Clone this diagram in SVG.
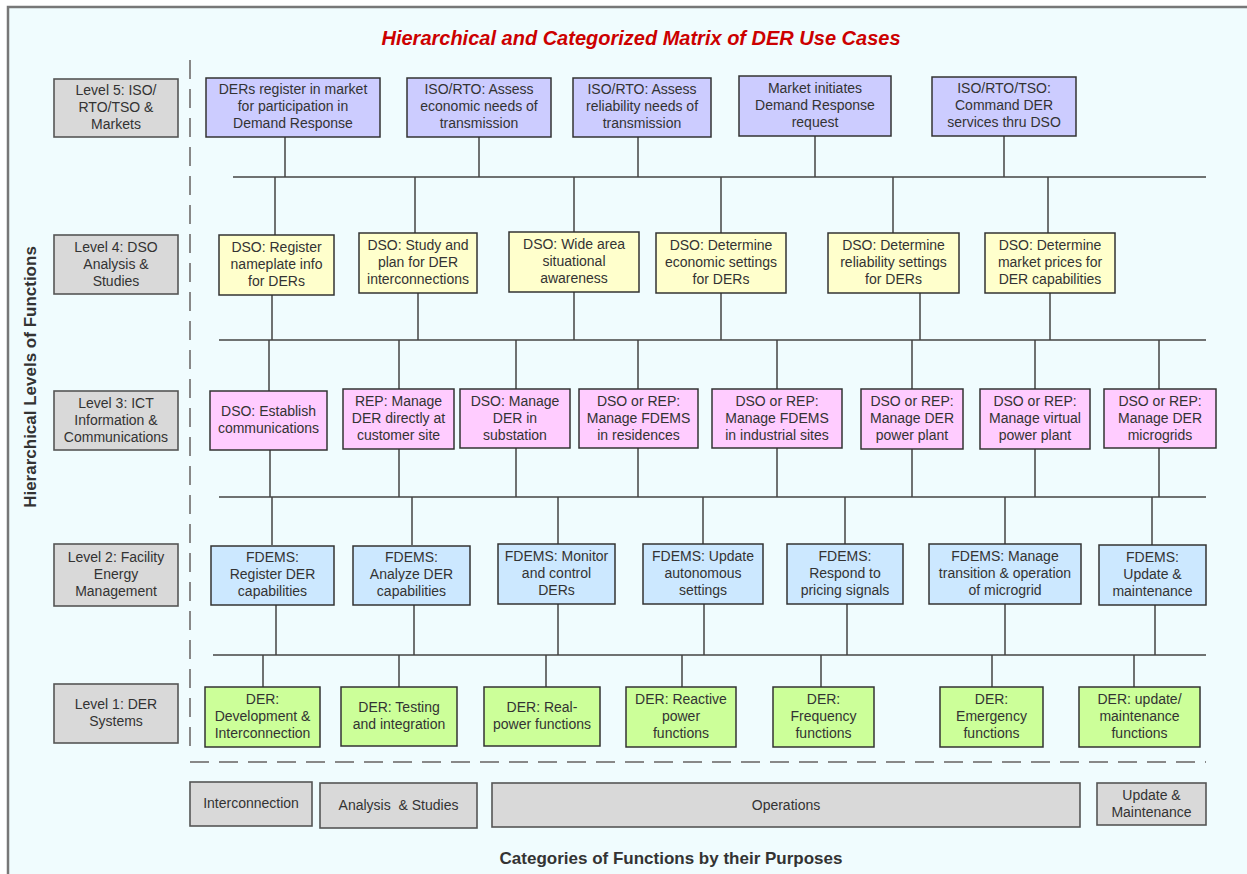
<svg xmlns="http://www.w3.org/2000/svg" width="1247" height="874" viewBox="0 0 1247 874">
  <style>
    text { font-family: "Liberation Sans", Arial, sans-serif; fill: #333; }
    .t { font-size: 14px; text-anchor: middle; }
    .lvl { fill: #d9d9d9; stroke: #555; stroke-width: 1.6; }
    .cat { fill: #d9d9d9; stroke: #555; stroke-width: 1.6; }
    .n5 { fill: #ccccff; stroke: #333; stroke-width: 1.5; }
    .n4 { fill: #ffffcc; stroke: #333; stroke-width: 1.5; }
    .n3 { fill: #ffccff; stroke: #333; stroke-width: 1.5; }
    .n2 { fill: #cce8ff; stroke: #333; stroke-width: 1.5; }
    .n1 { fill: #ccff99; stroke: #333; stroke-width: 1.5; }
    .wire { fill: none; stroke: #444; stroke-width: 1.5; }
    .dash { fill: none; stroke: #888; stroke-width: 2; stroke-dasharray: 19 10; }
  </style>

  <!-- page -->
  <rect x="0" y="0" width="1247" height="874" fill="#ffffff"/>
  <rect x="8" y="7" width="1260" height="890" fill="#f0fcfe" stroke="#777" stroke-width="2.5"/>

  <text x="641" y="45" font-size="20" font-weight="bold" font-style="italic" text-anchor="middle" style="fill:#cc0000">Hierarchical and Categorized Matrix of DER Use Cases</text>
  <text transform="translate(36,377) rotate(-90)" font-size="17" font-weight="bold" text-anchor="middle">Hierarchical Levels of Functions</text>
  <text x="671" y="864" font-size="17" font-weight="bold" text-anchor="middle">Categories of Functions by their Purposes</text>

  <!-- separators -->
  <g id="separators">
    <line class="dash" x1="190" y1="60" x2="190" y2="755"/>
    <line class="dash" x1="190" y1="762" x2="1206" y2="762"/>
  </g>

  <!-- level labels -->
  <g id="level5">
    <rect class="lvl" x="54" y="79" width="124" height="58"/>
    <text class="t"><tspan x="116" y="95">Level 5: ISO/</tspan><tspan x="116" y="112">RTO/TSO &amp;</tspan><tspan x="116" y="129">Markets</tspan></text>
  </g>
  <g id="level4">
    <rect class="lvl" x="54" y="235" width="124" height="59"/>
    <text class="t"><tspan x="116" y="251.5">Level 4: DSO</tspan><tspan x="116" y="268.5">Analysis &amp;</tspan><tspan x="116" y="285.5">Studies</tspan></text>
  </g>
  <g id="level3">
    <rect class="lvl" x="54" y="391" width="124" height="59"/>
    <text class="t"><tspan x="116" y="407.5">Level 3: ICT</tspan><tspan x="116" y="424.5">Information &amp;</tspan><tspan x="116" y="441.5">Communications</tspan></text>
  </g>
  <g id="level2">
    <rect class="lvl" x="54" y="544" width="124" height="62"/>
    <text class="t"><tspan x="116" y="562">Level 2: Facility</tspan><tspan x="116" y="579">Energy</tspan><tspan x="116" y="596">Management</tspan></text>
  </g>
  <g id="level1">
    <rect class="lvl" x="54" y="684" width="124" height="59"/>
    <text class="t"><tspan x="116" y="709">Level 1: DER</tspan><tspan x="116" y="726">Systems</tspan></text>
  </g>

  <!-- connectors -->
  <g id="connectors">
    <!-- level 5 to level 4 -->
    <path class="wire" d="M233 177H1206 M285 137V177 M479 137V177 M638 137V177 M815 136V177 M1004 136V177 M275 177V235 M415 177V233 M574 177V232 M721 177V233 M893 177V233 M1048 177V233"/>
    <!-- level 4 to level 3 -->
    <path class="wire" d="M219 340H1206 M272 295V340 M418 293V340 M574 292V340 M721 293V340 M920 293V340 M1050 293V340 M269 340V391 M399 340V389 M516 340V389 M638 340V389 M777 340V389 M912 340V389 M1035 340V389 M1159 340V389"/>
    <!-- level 3 to level 2 -->
    <path class="wire" d="M219 497H1206 M270 450V497 M399 449V497 M516 448V497 M638 448V497 M777 448V497 M912 449V497 M1035 449V497 M1159 448V497 M272 497V545 M412 497V545 M558 497V544 M703 497V544 M845 497V544 M1005 497V544 M1152 497V545"/>
    <!-- level 2 to level 1 -->
    <path class="wire" d="M213 655H1206 M276 605V655 M414 605V655 M558 604V655 M704 604V655 M847 604V655 M1005 604V655 M1155 605V655 M263 655V687 M399 655V687 M546 655V687 M682 655V687 M821 655V687 M992 655V687 M1134 655V687"/>
  </g>

  <!-- level 5 nodes -->
  <g id="l5-register-market">
    <rect class="n5" x="206" y="78" width="174" height="59"/>
    <text class="t"><tspan x="293" y="94">DERs register in market</tspan><tspan x="293" y="111">for participation in</tspan><tspan x="293" y="128">Demand Response</tspan></text>
  </g>
  <g id="l5-economic-needs">
    <rect class="n5" x="407" y="78" width="144" height="59"/>
    <text class="t"><tspan x="479" y="94">ISO/RTO: Assess</tspan><tspan x="479" y="111">economic needs of</tspan><tspan x="479" y="128">transmission</tspan></text>
  </g>
  <g id="l5-reliability-needs">
    <rect class="n5" x="573" y="78" width="138" height="59"/>
    <text class="t"><tspan x="642" y="94">ISO/RTO: Assess</tspan><tspan x="642" y="111">reliability needs of</tspan><tspan x="642" y="128">transmission</tspan></text>
  </g>
  <g id="l5-demand-response">
    <rect class="n5" x="739" y="76" width="152" height="60"/>
    <text class="t"><tspan x="815" y="92.5">Market initiates</tspan><tspan x="815" y="109.5">Demand Response</tspan><tspan x="815" y="126.5">request</tspan></text>
  </g>
  <g id="l5-command-der">
    <rect class="n5" x="932" y="77" width="144" height="59"/>
    <text class="t"><tspan x="1004" y="93">ISO/RTO/TSO:</tspan><tspan x="1004" y="110">Command DER</tspan><tspan x="1004" y="127">services thru DSO</tspan></text>
  </g>

  <!-- level 4 nodes -->
  <g id="l4-nameplate">
    <rect class="n4" x="219" y="235" width="115" height="60"/>
    <text class="t"><tspan x="276.5" y="252">DSO: Register</tspan><tspan x="276.5" y="269">nameplate info</tspan><tspan x="276.5" y="286">for DERs</tspan></text>
  </g>
  <g id="l4-interconnections">
    <rect class="n4" x="359" y="233" width="118" height="60"/>
    <text class="t"><tspan x="418" y="250">DSO: Study and</tspan><tspan x="418" y="267">plan for DER</tspan><tspan x="418" y="284">interconnections</tspan></text>
  </g>
  <g id="l4-wide-area">
    <rect class="n4" x="509" y="232" width="130" height="60"/>
    <text class="t"><tspan x="574" y="249">DSO: Wide area</tspan><tspan x="574" y="266">situational</tspan><tspan x="574" y="283">awareness</tspan></text>
  </g>
  <g id="l4-economic-settings">
    <rect class="n4" x="656" y="233" width="130" height="60"/>
    <text class="t"><tspan x="721" y="250">DSO: Determine</tspan><tspan x="721" y="267">economic settings</tspan><tspan x="721" y="284">for DERs</tspan></text>
  </g>
  <g id="l4-reliability-settings">
    <rect class="n4" x="828" y="233" width="131" height="60"/>
    <text class="t"><tspan x="893.5" y="250">DSO: Determine</tspan><tspan x="893.5" y="267">reliability settings</tspan><tspan x="893.5" y="284">for DERs</tspan></text>
  </g>
  <g id="l4-market-prices">
    <rect class="n4" x="985" y="233" width="130" height="60"/>
    <text class="t"><tspan x="1050" y="250">DSO: Determine</tspan><tspan x="1050" y="267">market prices for</tspan><tspan x="1050" y="284">DER capabilities</tspan></text>
  </g>

  <!-- level 3 nodes -->
  <g id="l3-communications">
    <rect class="n3" x="210" y="391" width="117" height="59"/>
    <text class="t"><tspan x="268.5" y="415.5">DSO: Establish</tspan><tspan x="268.5" y="432.5">communications</tspan></text>
  </g>
  <g id="l3-customer-site">
    <rect class="n3" x="343" y="389" width="111" height="60"/>
    <text class="t"><tspan x="398.5" y="406">REP: Manage</tspan><tspan x="398.5" y="423">DER directly at</tspan><tspan x="398.5" y="440">customer site</tspan></text>
  </g>
  <g id="l3-substation">
    <rect class="n3" x="460" y="389" width="110" height="59"/>
    <text class="t"><tspan x="515" y="405.5">DSO: Manage</tspan><tspan x="515" y="422.5">DER in</tspan><tspan x="515" y="439.5">substation</tspan></text>
  </g>
  <g id="l3-residences">
    <rect class="n3" x="579" y="389" width="119" height="59"/>
    <text class="t"><tspan x="638.5" y="405.5">DSO or REP:</tspan><tspan x="638.5" y="422.5">Manage FDEMS</tspan><tspan x="638.5" y="439.5">in residences</tspan></text>
  </g>
  <g id="l3-industrial">
    <rect class="n3" x="712" y="389" width="130" height="59"/>
    <text class="t"><tspan x="777" y="405.5">DSO or REP:</tspan><tspan x="777" y="422.5">Manage FDEMS</tspan><tspan x="777" y="439.5">in industrial sites</tspan></text>
  </g>
  <g id="l3-power-plant">
    <rect class="n3" x="861" y="389" width="102" height="60"/>
    <text class="t"><tspan x="912" y="406">DSO or REP:</tspan><tspan x="912" y="423">Manage DER</tspan><tspan x="912" y="440">power plant</tspan></text>
  </g>
  <g id="l3-virtual-plant">
    <rect class="n3" x="980" y="389" width="110" height="60"/>
    <text class="t"><tspan x="1035" y="406">DSO or REP:</tspan><tspan x="1035" y="423">Manage virtual</tspan><tspan x="1035" y="440">power plant</tspan></text>
  </g>
  <g id="l3-microgrids">
    <rect class="n3" x="1104" y="389" width="112" height="59"/>
    <text class="t"><tspan x="1160" y="405.5">DSO or REP:</tspan><tspan x="1160" y="422.5">Manage DER</tspan><tspan x="1160" y="439.5">microgrids</tspan></text>
  </g>

  <!-- level 2 nodes -->
  <g id="l2-register">
    <rect class="n2" x="211" y="546" width="123" height="59"/>
    <text class="t"><tspan x="272.5" y="562">FDEMS:</tspan><tspan x="272.5" y="579">Register DER</tspan><tspan x="272.5" y="596">capabilities</tspan></text>
  </g>
  <g id="l2-analyze">
    <rect class="n2" x="353" y="546" width="117" height="59"/>
    <text class="t"><tspan x="411.5" y="562">FDEMS:</tspan><tspan x="411.5" y="579">Analyze DER</tspan><tspan x="411.5" y="596">capabilities</tspan></text>
  </g>
  <g id="l2-monitor">
    <rect class="n2" x="498" y="544" width="117" height="60"/>
    <text class="t"><tspan x="556.5" y="561">FDEMS: Monitor</tspan><tspan x="556.5" y="578">and control</tspan><tspan x="556.5" y="595">DERs</tspan></text>
  </g>
  <g id="l2-autonomous">
    <rect class="n2" x="643" y="544" width="120" height="60"/>
    <text class="t"><tspan x="703" y="561">FDEMS: Update</tspan><tspan x="703" y="578">autonomous</tspan><tspan x="703" y="595">settings</tspan></text>
  </g>
  <g id="l2-pricing">
    <rect class="n2" x="787" y="544" width="116" height="60"/>
    <text class="t"><tspan x="845" y="561">FDEMS:</tspan><tspan x="845" y="578">Respond to</tspan><tspan x="845" y="595">pricing signals</tspan></text>
  </g>
  <g id="l2-microgrid">
    <rect class="n2" x="929" y="544" width="152" height="60"/>
    <text class="t"><tspan x="1005" y="561">FDEMS: Manage</tspan><tspan x="1005" y="578">transition &amp; operation</tspan><tspan x="1005" y="595">of microgrid</tspan></text>
  </g>
  <g id="l2-maintenance">
    <rect class="n2" x="1099" y="545" width="107" height="60"/>
    <text class="t"><tspan x="1152.5" y="562">FDEMS:</tspan><tspan x="1152.5" y="579">Update &amp;</tspan><tspan x="1152.5" y="596">maintenance</tspan></text>
  </g>

  <!-- level 1 nodes -->
  <g id="l1-development">
    <rect class="n1" x="205" y="687" width="115" height="60"/>
    <text class="t"><tspan x="262.5" y="704">DER:</tspan><tspan x="262.5" y="721">Development &amp;</tspan><tspan x="262.5" y="738">Interconnection</tspan></text>
  </g>
  <g id="l1-testing">
    <rect class="n1" x="341" y="687" width="116" height="59"/>
    <text class="t"><tspan x="399" y="712">DER: Testing</tspan><tspan x="399" y="729">and integration</tspan></text>
  </g>
  <g id="l1-real-power">
    <rect class="n1" x="484" y="687" width="116" height="59"/>
    <text class="t"><tspan x="542" y="712">DER: Real-</tspan><tspan x="542" y="729">power functions</tspan></text>
  </g>
  <g id="l1-reactive">
    <rect class="n1" x="626" y="687" width="110" height="60"/>
    <text class="t"><tspan x="681" y="704">DER: Reactive</tspan><tspan x="681" y="721">power</tspan><tspan x="681" y="738">functions</tspan></text>
  </g>
  <g id="l1-frequency">
    <rect class="n1" x="773" y="687" width="101" height="60"/>
    <text class="t"><tspan x="823.5" y="704">DER:</tspan><tspan x="823.5" y="721">Frequency</tspan><tspan x="823.5" y="738">functions</tspan></text>
  </g>
  <g id="l1-emergency">
    <rect class="n1" x="940" y="687" width="103" height="60"/>
    <text class="t"><tspan x="991.5" y="704">DER:</tspan><tspan x="991.5" y="721">Emergency</tspan><tspan x="991.5" y="738">functions</tspan></text>
  </g>
  <g id="l1-maintenance">
    <rect class="n1" x="1079" y="687" width="121" height="60"/>
    <text class="t"><tspan x="1139.5" y="704">DER: update/</tspan><tspan x="1139.5" y="721">maintenance</tspan><tspan x="1139.5" y="738">functions</tspan></text>
  </g>

  <!-- purpose categories -->
  <g id="cat-interconnection">
    <rect class="cat" x="190" y="782" width="122" height="44"/>
    <text class="t" x="251" y="808">Interconnection</text>
  </g>
  <g id="cat-analysis">
    <rect class="cat" x="320" y="783" width="157" height="45"/>
    <text class="t" x="398.5" y="810" xml:space="preserve">Analysis  &amp; Studies</text>
  </g>
  <g id="cat-operations">
    <rect class="cat" x="492" y="783" width="588" height="44"/>
    <text class="t" x="786" y="810">Operations</text>
  </g>
  <g id="cat-maintenance">
    <rect class="cat" x="1097" y="783" width="109" height="42"/>
    <text class="t"><tspan x="1151.5" y="800">Update &amp;</tspan><tspan x="1151.5" y="817">Maintenance</tspan></text>
  </g>
</svg>
